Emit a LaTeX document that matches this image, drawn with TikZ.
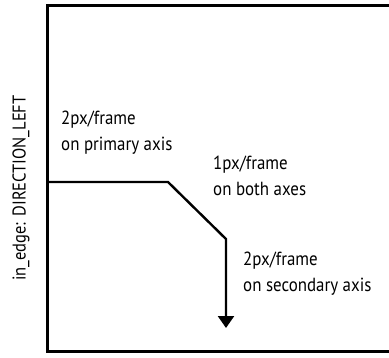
\documentclass[tikz,border=0pt]{standalone}
\usepackage{fontspec}
\setmainfont[FakeStretch=0.89]{PT Sans}
\usetikzlibrary{arrows.meta}

\tikzset{
  lbl/.style={anchor=north west,align=left,inner sep=0pt,font=\fontsize{19}{26}\selectfont},
  path/.style={line width=2.4pt},
}

\begin{document}
\begin{tikzpicture}[x=1pt,y=-1pt,>={Triangle[width=16pt,length=12pt]}]
\useasboundingbox (0,0) rectangle (389,357);
\clip (0,0) rectangle (389,357);
\draw[line width=2.6pt] (47.3,5.3) rectangle (420,351.5);

\node[rotate=90,inner sep=0pt,font=\fontsize{18.5}{20}\selectfont](edge) at (21,188) {in\_edge: DIRECTION\_LEFT};

\coordinate (start) at (47.3,182);
\coordinate (bend1) at (168,182);
\coordinate (bend2) at (226,239);
\coordinate (stop) at (226,328);

\draw[path,->] (start) -- (bend1) -- (bend2) -- (stop);

\node[lbl](primary) at (61,111) {2px/frame\\on primary axis};
\node[lbl](both) at (213,156) {1px/frame\\on both axes};
\node[lbl](secondary) at (243,252) {2px/frame\\on secondary axis};
\end{tikzpicture}
\end{document}
